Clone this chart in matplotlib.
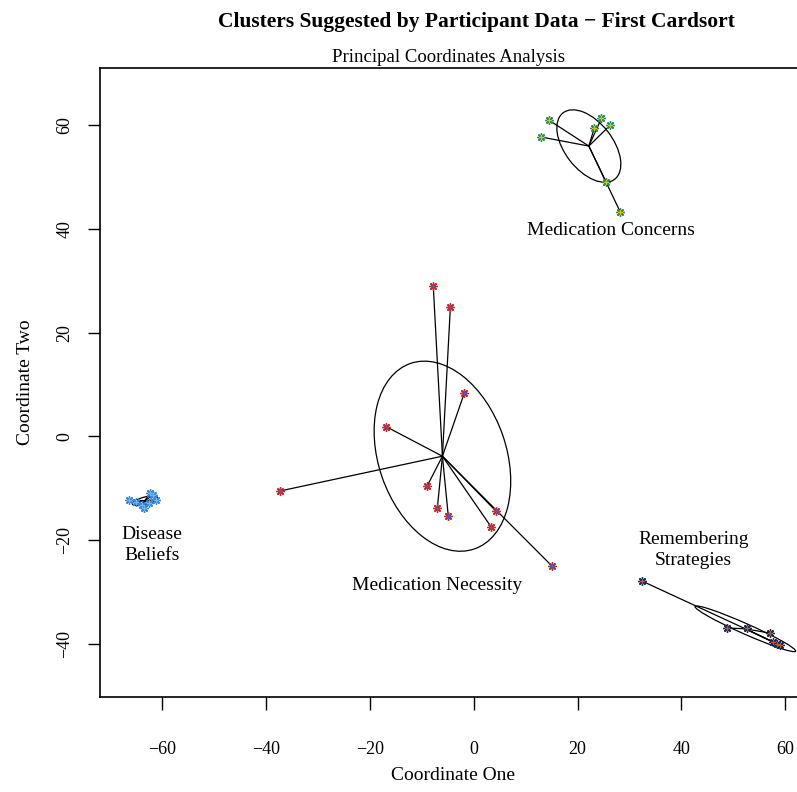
import numpy as np
import matplotlib
matplotlib.use("Agg")
import matplotlib.pyplot as plt
from matplotlib.patches import Ellipse

# ---- data ----
concerns_x = [14.4, 13.0, 24.6, 26.3, 23.2, 25.5, 28.2]
concerns_y = [61.0, 57.7, 61.3, 60.0, 59.4, 49.0, 43.3]

necessity_x = [-7.8, -4.5, -1.8, -16.9, -9.0, -7.0, -4.9, 4.3, 3.4, 15.1, -37.3]
necessity_y = [29.0, 25.0, 8.4, 1.9, -9.6, -13.7, -15.4, -14.4, -17.5, -25.0, -10.5]

disease_x = [-66.5, -65.0, -63.5, -62.5, -61.8, -61.2, -62.3, -64.0]
disease_y = [-12.3, -12.6, -13.8, -12.8, -11.3, -12.2, -10.8, -13.2]

remember_x = [32.5, 48.8, 52.7, 57.1, 58.5, 57.7, 58.9]
remember_y = [-27.9, -36.9, -36.9, -37.9, -40.0, -39.6, -40.2]

# ellipse parameters: (semi-major, semi-minor, angle deg)
ell_concerns = (8.1, 4.6, -52)
ell_necessity = (18.9, 12.3, -71)
ell_disease = (2.5, 0.7, 15)
ell_remember = (10.6, 1.0, -24)

labels = ["Medication Concerns", "Medication Necessity", "Disease\nBeliefs", "Remembering\nStrategies"]
label_pos = [(26.5, 39.6), (-7.0, -28.8), (-62.0, -20.9), (42.3, -21.8)]

title = "Clusters Suggested by Participant Data \u2212 First Cardsort"
subtitle = "Principal Coordinates Analysis"
xticks = [-60, -40, -20, 0, 20, 40, 60]
yticks = [-40, -20, 0, 20, 40, 60]

serif = ["Liberation Serif", "DejaVu Serif"]
plt.rcParams["font.family"] = serif
plt.rcParams["axes.unicode_minus"] = True

fig = plt.figure(figsize=(7.97, 7.92), dpi=100)
ax = fig.add_axes([100/797, 1-697/792, 0.8858, (697-68)/792])
ax.set_xlim(-72, 64)
ax.set_ylim(-50.2, 71)

groups = [
    (concerns_x, concerns_y, ell_concerns, "#2e8b57", "#d9c21c"),
    (necessity_x, necessity_y, ell_necessity, "#c8282a", "#4a5fc0"),
    (disease_x, disease_y, ell_disease, "#3b86d6", "#6fb6ee"),
    (remember_x, remember_y, ell_remember, "#1c2a50", "#d2502a"),
]

for xs, ys, (a, b, ang), c1, c2 in groups:
    xs = np.asarray(xs); ys = np.asarray(ys)
    cx, cy = xs.mean(), ys.mean()
    for x, y in zip(xs, ys):
        ax.plot([cx, x], [cy, y], color="black", lw=0.9, zorder=2)
    ax.add_patch(Ellipse((cx, cy), 2*a, 2*b, angle=ang, fill=False,
                         edgecolor="black", lw=0.9, zorder=2))
    ax.plot(xs, ys, linestyle="none", marker=(8, 2, 0), markersize=6,
            markeredgecolor=c1, markeredgewidth=1.0, zorder=3)
    ax.plot(xs, ys, linestyle="none", marker=(4, 2, 0), markersize=3.5,
            markeredgecolor=c2, markeredgewidth=0.8, zorder=4)

for lab, (x, y) in zip(labels, label_pos):
    ax.text(x, y, lab, ha="center", va="center", fontsize=14,
            linespacing=1.3, zorder=5)

ax.set_xticks(xticks)
ax.set_yticks(yticks)
ax.set_xticklabels([f"{v}".replace("-", "\u2212") for v in xticks], fontsize=13)
ax.set_yticklabels([f"{v}".replace("-", "\u2212") for v in yticks], fontsize=13,
                   rotation=90, va="center")
ax.tick_params(axis="both", direction="out", length=9, width=1.0, color="black")
ax.tick_params(axis="x", pad=23)
ax.tick_params(axis="y", pad=10)
for s in ax.spines.values():
    s.set_linewidth(1.2)

ax.set_xlabel("Coordinate One", fontsize=14, labelpad=6)
ax.set_ylabel("Coordinate Two", fontsize=14, labelpad=16)

fig.text(476/797, 1-22/792, title, ha="center", va="center",
         fontsize=15.5, fontweight="bold")
fig.text(448/797, 1-58/792, subtitle, ha="center", va="center", fontsize=13.5)

fig.savefig("out.png", dpi=100)
